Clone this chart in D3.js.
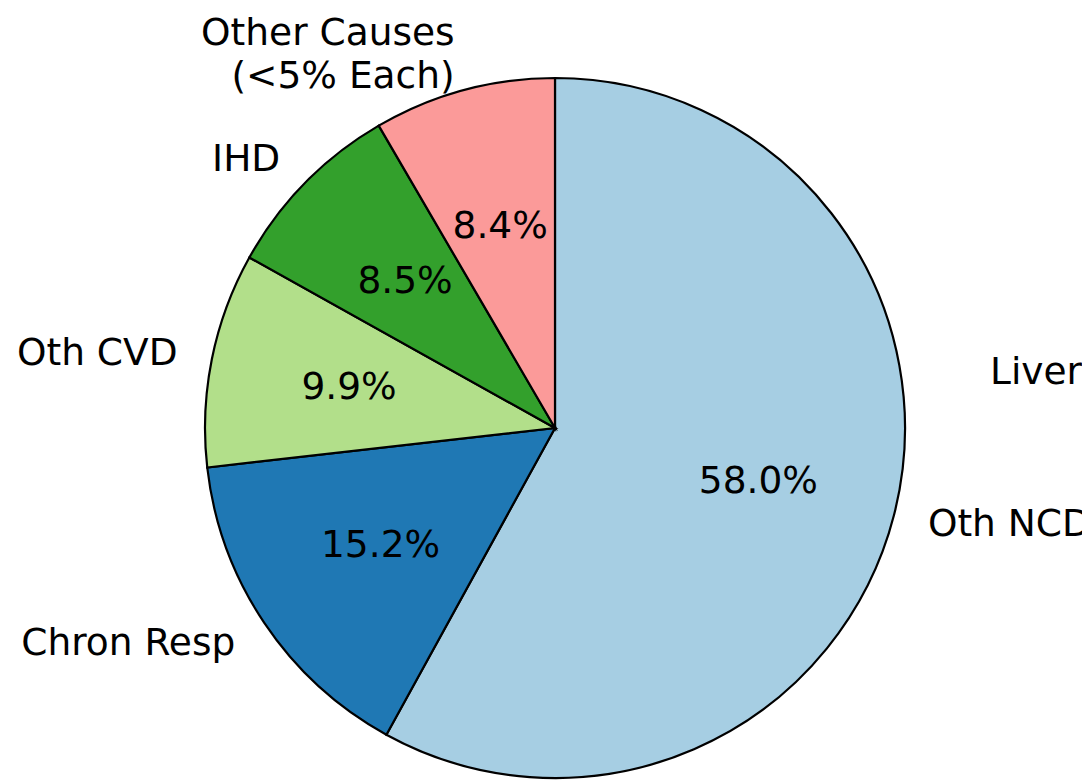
<!DOCTYPE html>
<html>
<head>
<meta charset="utf-8">
<script src="https://cdn.jsdelivr.net/npm/d3@7"></script>
<style>
  html, body { margin: 0; padding: 0; background: #fff; overflow: hidden; }
  svg { display: block; }
  text { font-family: "DejaVu Sans", sans-serif; fill: #000; }
</style>
</head>
<body>
<svg id="chart" width="1082" height="781"></svg>
<script>
const categories = ["Oth NCD", "Chron Resp", "Oth CVD", "IHD", "Other Causes\n(<5% Each)"];
const values = [58.0, 15.2, 9.9, 8.5, 8.4];
const colors = ["#a6cee3", "#1f78b4", "#b2df8a", "#33a02c", "#fb9a99"];
const extraLabels = ["Liver"];

const W = 1082, H = 781;
const cx = 555, cy = 428, R = 350;
const fontSize = 37.5;
const lineH = 43;

const svg = d3.select("#chart");
const g = svg.append("g").attr("transform", `translate(${cx},${cy})`);

const data = categories.map((c, i) => ({ label: c, value: values[i], color: colors[i] }));
const pie = d3.pie().sort(null).value(d => d.value).startAngle(0).endAngle(2 * Math.PI);
const arcs = pie(data);
const arc = d3.arc().innerRadius(0).outerRadius(R);

g.selectAll("path.slice").data(arcs).enter().append("path")
  .attr("class", "slice")
  .attr("d", arc)
  .attr("fill", d => d.data.color)
  .attr("stroke", "#000")
  .attr("stroke-width", 2.2)
  .attr("stroke-linejoin", "miter");

const total = d3.sum(values);
function pos(a, r) { return [r * Math.sin(a), -r * Math.cos(a)]; }

// percentage labels
arcs.forEach(d => {
  const m = (d.startAngle + d.endAngle) / 2;
  const [x, y] = pos(m, R * 0.6);
  g.append("text")
    .attr("x", x).attr("y", y + fontSize * 0.33)
    .attr("text-anchor", "middle")
    .attr("font-size", fontSize)
    .text((d.data.value / total * 100).toFixed(1) + "%");
});

// category labels
arcs.forEach(d => {
  const m = (d.startAngle + d.endAngle) / 2;
  const [x, y] = pos(m, R * 1.1);
  const lines = d.data.label.split("\n");
  const t = g.append("text")
    .attr("font-size", fontSize)
    .attr("text-anchor", x >= 0 ? "start" : "end");
  lines.forEach((ln, i) => {
    t.append("tspan")
      .attr("x", x)
      .attr("y", y + (i - (lines.length - 1) / 2) * lineH + fontSize * 0.33 - (lines.length > 1 ? 2 : 0))
      .text(ln);
  });
});

// extra label (Liver)
extraLabels.forEach(l => {
  svg.append("text")
    .attr("x", 990).attr("y", 384)
    .attr("font-size", fontSize)
    .attr("text-anchor", "start")
    .text(l);
});
</script>
</body>
</html>
